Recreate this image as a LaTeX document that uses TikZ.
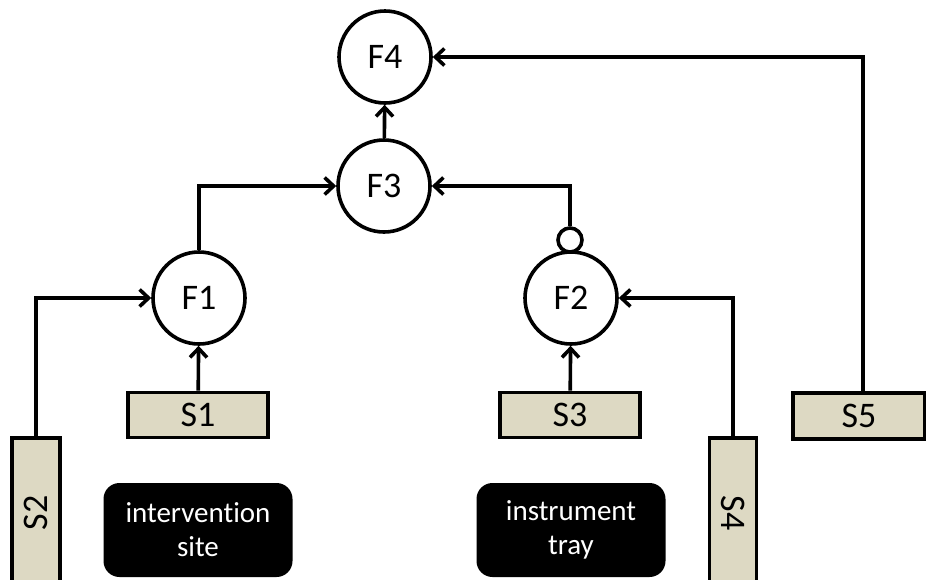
\documentclass[tikz,border=0pt]{standalone}
\usepackage{fontspec}
\setmainfont[Ligatures=NoCommon]{Carlito}
\usetikzlibrary{arrows.meta}
\definecolor{sbox}{HTML}{DDD9C3}
\begin{document}
\begin{tikzpicture}[x=1pt,y=-1pt, line width=3.6pt,
  func/.style={draw, circle, minimum size=92pt, inner sep=0pt, font=\fontsize{36}{40}\selectfont},
  gate/.style={draw, circle, minimum size=24pt, inner sep=0pt, fill=white},
  src/.style={draw, fill=sbox, inner sep=0pt, font=\fontsize{36}{40}\selectfont},
  place/.style={fill=black, text=white, rounded corners=16pt, inner sep=0pt,
    minimum width=189pt, minimum height=94pt, align=center,
    font=\fontsize{29}{34}\selectfont},
  arr/.style={-{Straight Barb[length=9pt,width=17pt]}}]
\clip (0,0) rectangle (926,579);
\fill[white] (0,0) rectangle (926,579);

% function nodes
\node[func] (F4) at (385,57) {F4};
\node[func] (F3) at (384,186) {F3};
\node[func] (F1) at (199,298) {F1};
\node[func] (F2) at (571,298) {F2};
\node[gate] (G) at (570,240) {};

% sources
\node[src, minimum width=140pt, minimum height=45pt] (S1) at (198,415) {S1};
\node[src, minimum width=140pt, minimum height=45pt] (S3) at (570,415) {S3};
\node[src, minimum width=132pt, minimum height=46pt] (S5) at (859,416) {S5};
\node[src, minimum width=48pt, minimum height=150pt] (S2) at (36,513) {\rotatebox{90}{S2}};
\node[src, minimum width=47pt, minimum height=150pt] (S4) at (733,513) {\rotatebox{-90}{S4}};

% places
\node[place] (site) at (198,530) {intervention\\site};
\node[place] (tray) at (571,530) {instrument\\tray};

% connectors
\draw[arr] (F3) -- (F4);
\draw[arr] (F1.north) |- (F3.west);
\draw[arr] (G.north) |- (F3.east);
\draw[arr] (S1) -- (F1);
\draw[arr] (S3) -- (F2);
\draw[arr] (S2.north) |- (F1.west);
\draw[arr] (S4.north) |- (F2.east);
\draw[arr] ([xshift=4pt]S5.north) |- (F4.east);
\end{tikzpicture}
\end{document}
